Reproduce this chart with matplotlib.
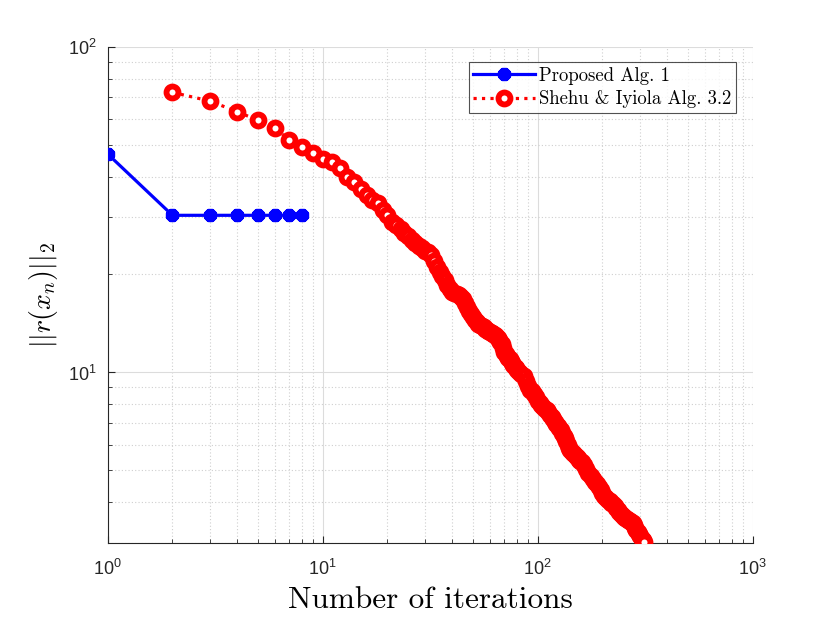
import matplotlib
matplotlib.use("Agg")
import matplotlib.pyplot as plt
from matplotlib.ticker import LogLocator, NullFormatter

plt.rcParams['font.family'] = ['Liberation Sans', 'DejaVu Sans']

# Proposed Alg. 1
prop_iter = [1, 2, 3, 4, 5, 6, 7, 8]
prop_res = [46.9, 30.4, 30.4, 30.4, 30.4, 30.4, 30.4, 30.4]

# Shehu & Iyiola Alg. 3.2
shehu_iter = (list(range(2, 81)) + list(range(82, 161, 2))
              + list(range(164, 309, 4)) + [311])
shehu_res = [
    # 2 .. 40
    72.5, 68.2, 63.2, 59.6, 56.2, 51.8, 49.3, 47.1, 45.4, 44.3,
    42.4, 39.9, 38.5, 36.7, 35.0, 33.8, 33.1, 31.6, 30.5, 29.0,
    28.3, 27.6, 26.9, 26.2, 25.6, 25.0, 24.5, 24.1, 23.7, 23.4,
    23.0, 22.0, 21.1, 20.4, 19.8, 19.2, 18.6, 18.1, 17.7,
    # 41 .. 80
    17.5, 17.4, 17.3, 17.1, 16.8, 16.4, 15.9, 15.4, 15.1, 14.8,
    14.5, 14.3, 14.1, 14.0, 13.9, 13.8, 13.65, 13.5, 13.4, 13.3,
    13.2, 13.1, 13.0, 12.9, 12.75, 12.6, 12.4, 12.2, 11.9, 11.6,
    11.4, 11.2, 11.1, 11.0, 10.85, 10.7, 10.55, 10.4, 10.3, 10.2,
    # 82 .. 160 (every 2)
    10.0, 9.9, 9.75, 9.4, 9.1, 8.85, 8.75, 8.6, 8.4, 8.2,
    8.05, 7.95, 7.85, 7.75, 7.65, 7.55, 7.42, 7.3, 7.18, 7.05,
    6.95, 6.85, 6.75, 6.65, 6.52, 6.4, 6.28, 6.15, 6.0, 5.85,
    5.77, 5.7, 5.65, 5.6, 5.55, 5.5, 5.45, 5.4, 5.35, 5.3,
    # 164 .. 308 (every 4)
    5.2, 5.05, 4.9, 4.8, 4.7, 4.62, 4.55, 4.45, 4.35, 4.25,
    4.18, 4.12, 4.07, 4.02, 3.98, 3.94, 3.89, 3.84, 3.78, 3.73,
    3.68, 3.63, 3.6, 3.57, 3.54, 3.51, 3.49, 3.47, 3.44, 3.4,
    3.33, 3.28, 3.24, 3.2, 3.15, 3.09, 3.05,
    # 311
    3.02,
]

labels = ['Proposed Alg. 1', 'Shehu & Iyiola Alg. 3.2']
xlim = (1, 1000)
ylim = (3, 100)

fig = plt.figure(figsize=(8.3, 6.23), dpi=100)
ax = fig.add_axes([0.1298, 0.1289, 0.7771, 0.7957])

ax.plot(prop_iter, prop_res, color='#0000ff', lw=2.3, marker=(8, 2, 0),
        ms=9.5, mew=3.4, mec='#0000ff', mfc='#0000ff', label=labels[0], zorder=3)
ax.plot(shehu_iter, shehu_res, color='#ff0000', lw=2.3, ls=':', marker='o',
        ms=8.6, mew=4.2, mec='#ff0000', mfc='white', label=labels[1], zorder=4)

ax.set_xscale('log')
ax.set_yscale('log')
ax.set_xlim(*xlim)
ax.set_ylim(*ylim)

ax.xaxis.set_major_locator(LogLocator(base=10, numticks=10))
ax.yaxis.set_major_locator(LogLocator(base=10, numticks=10))
ax.xaxis.set_minor_locator(LogLocator(base=10, subs=range(2, 10), numticks=20))
ax.yaxis.set_minor_locator(LogLocator(base=10, subs=range(2, 10), numticks=20))
ax.xaxis.set_minor_formatter(NullFormatter())
ax.yaxis.set_minor_formatter(NullFormatter())

ax.grid(True, which='major', color='#dcdcdc', lw=0.8, ls='-')
ax.grid(True, which='minor', color='#cfcfcf', lw=0.8, ls=(0, (1, 2)))
ax.set_axisbelow(True)

for s in ['top', 'right']:
    ax.spines[s].set_visible(False)
for s in ['left', 'bottom']:
    ax.spines[s].set_color('#262626')
    ax.spines[s].set_linewidth(0.8)

ax.tick_params(which='both', direction='in', colors='#262626', labelsize=13,
               top=False, right=False)
ax.tick_params(which='major', length=5, width=0.8)
ax.tick_params(which='minor', length=3, width=0.6)
ax.tick_params(axis='x', which='major', pad=12)
ax.tick_params(axis='y', which='major', pad=8)

ax.set_xlabel('Number of iterations', fontfamily='cmr10', fontsize=22.5, labelpad=5)
ax.set_ylabel(r'$||r(x_n)||_2$', math_fontfamily='cm', fontsize=20, labelpad=6)

leg = ax.legend(loc='upper right', bbox_to_anchor=(0.974, 0.97),
                prop={'family': 'cmr10', 'size': 13.5},
                frameon=True, fancybox=False, edgecolor='#262626', handlelength=3.3,
                borderpad=0.25, labelspacing=0.3, handletextpad=0.2, borderaxespad=0)
leg.get_frame().set_linewidth(0.8)

fig.savefig('out.png', dpi=100, facecolor='white')
